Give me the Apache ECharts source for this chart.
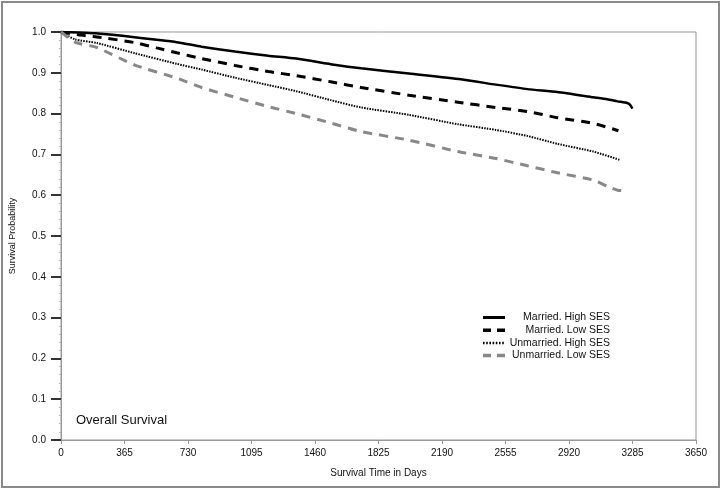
<!DOCTYPE html>
<html>
<head>
<meta charset="utf-8">
<script src="https://cdn.jsdelivr.net/npm/echarts@6/dist/echarts.min.js"></script>
<style>html,body{margin:0;padding:0;background:#fff}#c{width:723px;height:491px}</style>
</head>
<body>
<div id="c"></div>
<script>
const xTicks = [0,365,730,1095,1460,1825,2190,2555,2920,3285,3650];
const seriesNames = ['Married. High SES','Married. Low SES','Unmarried. High SES','Unmarried. Low SES'];
const marriedHigh = [[0,1.0],[100,0.999],[200,0.997],[365,0.990],[550,0.981],[665,0.975],[808,0.964],[1000,0.952],[1192,0.942],[1352,0.935],[1570,0.920],[1725,0.911],[2000,0.898],[2298,0.884],[2500,0.871],[2682,0.860],[2853,0.853],[3060,0.840],[3140,0.835],[3200,0.830],[3255,0.826],[3270,0.822],[3285,0.812]];
const marriedLow = [[0,1.0],[100,0.993],[206,0.988],[424,0.974],[550,0.961],[665,0.949],[808,0.935],[1000,0.918],[1192,0.903],[1352,0.893],[1550,0.878],[1725,0.864],[2000,0.845],[2281,0.828],[2500,0.815],[2682,0.805],[2853,0.790],[3060,0.776],[3204,0.758]];
const unmarriedHigh = [[0,1.0],[80,0.982],[206,0.973],[424,0.948],[665,0.922],[808,0.908],[1000,0.888],[1192,0.870],[1352,0.855],[1550,0.833],[1725,0.815],[2000,0.797],[2281,0.774],[2500,0.760],[2682,0.745],[2853,0.726],[3060,0.707],[3215,0.686]];
const unmarriedLow = [[0,1.0],[80,0.975],[206,0.962],[424,0.919],[665,0.887],[808,0.864],[1000,0.840],[1192,0.817],[1352,0.800],[1550,0.777],[1725,0.756],[2000,0.735],[2281,0.707],[2500,0.690],[2682,0.672],[2853,0.655],[3060,0.637],[3140,0.622],[3200,0.612],[3255,0.611]];

const font = 'Liberation Sans, Arial, Helvetica, sans-serif';
const styles = [
  {color: '#000', width: 2.5, type: 'solid'},
  {color: '#000', width: 3, type: [9, 7]},
  {color: '#000', width: 2, type: [1.5, 1.2]},
  {color: '#888', width: 3, type: [9, 7]}
];
const legendStyles = [
  {color: '#000', width: 3, type: 'solid'},
  {color: '#000', width: 3.5, type: [8, 6]},
  {color: '#000', width: 2.5, type: [1.6, 1.6]},
  {color: '#888', width: 3.5, type: [8, 6]}
];
const chart = echarts.init(document.getElementById('c'));
chart.setOption({
  backgroundColor: '#fff',
  animation: false,
  graphic: [
    {type:'rect', shape:{x:2,y:2,width:717,height:485}, style:{fill:'none', stroke:'#8a8a8a', lineWidth:2}, silent:true},
    {type:'text', left:76, top:414, style:{text:'Overall Survival', font:'13px ' + font, fill:'#111'}}
  ],
  grid: {left:59, right:27, top:32, bottom:51, show:true, borderColor:'#999', borderWidth:1, backgroundColor:'transparent'},
  legend: {
    right: 108, top: 307, orient: 'vertical', itemGap: 1.7, itemWidth: 22, itemHeight: 10,
    data: seriesNames.map((n, i) => ({name: n, lineStyle: legendStyles[i]})),
    itemStyle: {opacity: 0},
    formatter: n => '{a|' + n + '}',
    textStyle: {rich: {a: {width: 100, align: 'right', fontSize: 10.5, fontFamily: font, color: '#111'}}}
  },
  xAxis: {
    type: 'value', min: 0, max: 3650, interval: 365,
    name: 'Survival Time in Days', nameLocation: 'middle', nameGap: 28,
    nameTextStyle: {fontSize: 10, fontFamily: font, color: '#111'},
    axisLine: {lineStyle: {color: '#999', width: 1}},
    axisTick: {show: true, length: 4, lineStyle: {color: '#999'}},
    axisLabel: {fontSize: 10, fontFamily: font, color: '#111', margin: 8, formatter: v => String(v)},
    splitLine: {show: false}
  },
  yAxis: {
    type: 'value', min: 0, max: 1, interval: 0.1,
    name: 'Survival Probability', nameLocation: 'middle', nameGap: 44, nameRotate: 90,
    nameTextStyle: {fontSize: 9, fontFamily: font, color: '#111'},
    axisLine: {show: true, lineStyle: {color: '#999', width: 1}},
    axisTick: {show: true, length: 10, lineStyle: {color: '#333', width: 2}},
    minorTick: {show: true, splitNumber: 5, length: 2, lineStyle: {color: '#bbb'}},
    axisLabel: {fontSize: 10, fontFamily: font, color: '#111', margin: 15, formatter: v => v.toFixed(1)},
    splitLine: {show: false}
  },
  series: [marriedHigh, marriedLow, unmarriedHigh, unmarriedLow].map((d, i) => ({
    name: seriesNames[i], type: 'line', data: d, showSymbol: false, symbol: 'none', smooth: 0.2,
    lineStyle: styles[i], itemStyle: {color: styles[i].color}
  }))
});
</script>
</body>
</html>
